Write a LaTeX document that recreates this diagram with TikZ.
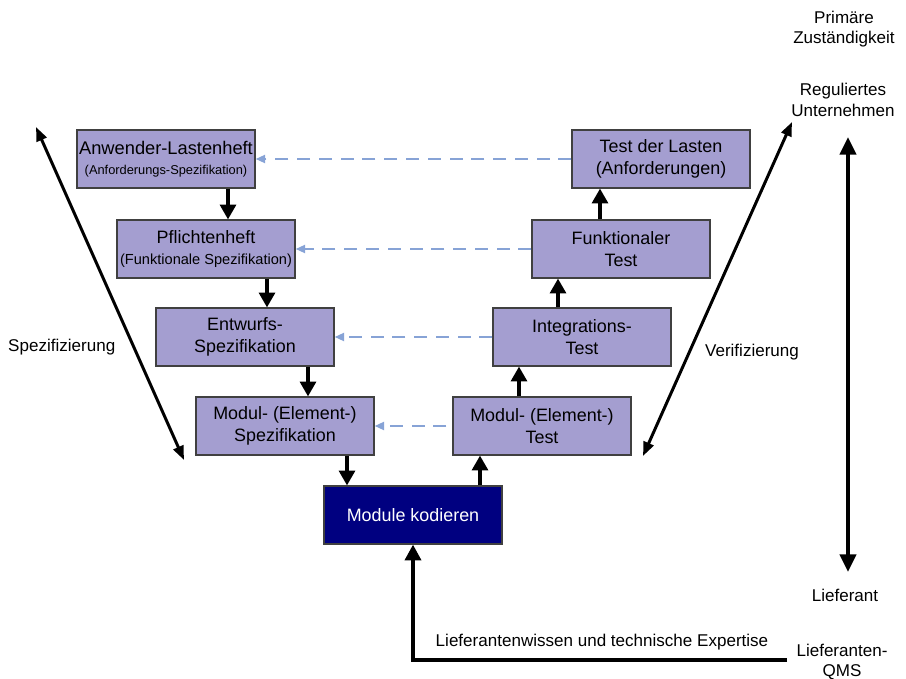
\documentclass[tikz,border=0pt]{standalone}
\usepackage{fontspec}
\setmainfont{Liberation Sans}
\usetikzlibrary{arrows.meta}
\definecolor{lavendel}{RGB}{164,158,208}
\definecolor{kodblau}{RGB}{0,0,128}
\definecolor{rueckblau}{RGB}{135,163,214}
\tikzset{
    kasten/.style={draw=black!75, line width=.6pt, fill=lavendel, minimum width=3.56cm, minimum height=1.16cm,
        align=center, inner sep=1pt, font=\fontsize{10.2}{12.5}\selectfont},
    fluss/.style={line width=2.8pt, -{Triangle[width=9pt,length=8.5pt]}},
    rueck/.style={rueckblau, line width=1.4pt, dash pattern=on 7.4pt off 5pt, -{Triangle[width=4.5pt,length=5.5pt]}},
    achse/.style={line width=1.7pt, {Triangle[width=6pt,length=8pt]}-{Triangle[width=6pt,length=8pt]}},
    etikett/.style={align=center, font=\fontsize{9.7}{11.5}\selectfont},
}
\begin{document}
\begin{tikzpicture}[x=0.02cm,y=-0.02cm,line join=miter]
    \useasboundingbox (0,0) rectangle (906,679);
    % linker Ast
    \node[kasten] (lh) at (166,159) {\fontsize{10.4}{12.5}\selectfont Anwender-Lastenheft\\[-1pt]{\fontsize{7.3}{9}\selectfont (Anforderungs-Spezifikation)}};
    \node[kasten] (pf) at (206,249) {Pflichtenheft\\{\fontsize{8.3}{10}\selectfont (Funktionale Spezifikation)}};
    \node[kasten] (ew) at (245,337) {Entwurfs-\\Spezifikation};
    \node[kasten] (ms) at (285,426) {Modul- (Element-)\\Spezifikation};
    % rechter Ast
    \node[kasten] (tl) at (661,159) {Test der Lasten\\(Anforderungen)};
    \node[kasten] (ft) at (621,249) {Funktionaler\\Test};
    \node[kasten] (it) at (582,337) {Integrations-\\Test};
    \node[kasten] (mt) at (542,426) {Modul- (Element-)\\Test};
    % Spitze
    \node[kasten, fill=kodblau, text=white] (mk) at (413,515) {Module kodieren};

    \foreach \o/\u/\x in {lh/pf/228, pf/ew/267, ew/ms/308, ms/mk/347}
        \draw[fluss] (\o.south -| \x,0) -- (\u.north -| \x,0);
    \foreach \o/\u/\x in {mk/mt/480, mt/it/519, it/ft/558, ft/tl/600}
        \draw[fluss] (\o.north -| \x,0) -- (\u.south -| \x,0);
    \foreach \r/\l in {tl/lh, ft/pf, it/ew}
        \draw[rueck] (\r.west) -- (\l.east);
    \draw[rueck, shorten <=6*0.02cm] (mt.west) -- (ms.east);

    % Achsen
    \coordinate (spo) at (36,127);
    \coordinate (spu) at (184,460);
    \coordinate (veu) at (643,456);
    \coordinate (veo) at (792,122);
    \draw[achse] (spo) -- (spu);
    \draw[achse] (veu) -- (veo);
    \node[etikett, anchor=west] (spz) at (2,347) {Spezifizierung};
    \node[etikett] (vrf) at (752,352) {Verifizierung};

    % Zustaendigkeit
    \node[etikett] (prim) at (844,29) {Primäre\\Zuständigkeit};
    \node[etikett] (reg) at (843,100) {Reguliertes\\Unternehmen};
    \node[etikett] (lief) at (845,595) {Lieferant};
    \draw[line width=2.8pt, {Triangle[width=9pt,length=10pt]}-{Triangle[width=9pt,length=10pt]}] (848,137) -- (848,572);

    % Lieferantenwissen
    \node[etikett] (qms) at (842,662) {Lieferanten-\\QMS};
    \node[etikett] (wis) at (602,642) {Lieferantenwissen und technische Expertise};
    \coordinate (wisende) at (787,660);
    \draw[line width=2.8pt, -{Triangle[width=9pt,length=9pt]}] (wisende) -| (mk.south);
\end{tikzpicture}
\end{document}
